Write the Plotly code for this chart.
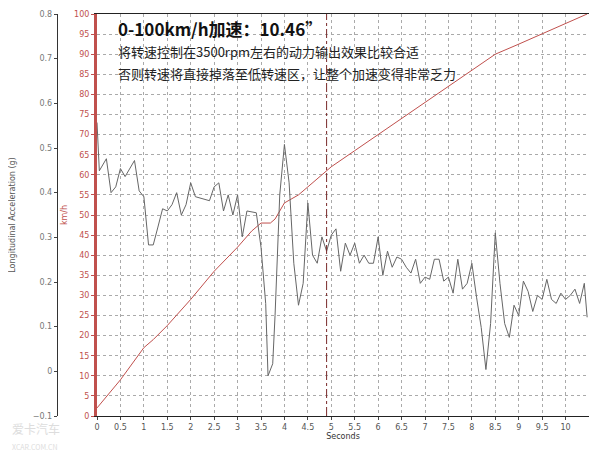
import plotly.graph_objects as go

# speed curve (km/h)
speed_t = [0, 0.5, 1.0, 1.2, 1.5, 2.0, 2.5, 3.0, 3.3, 3.5, 3.7, 3.8, 4.0, 4.3, 4.5, 5.0, 5.5, 6.0,
           6.5, 7.0, 7.5, 8.0, 8.5, 9.0, 9.5, 10.0, 10.46]
speed = [2, 9, 17, 19, 22.5, 29, 36, 42, 46, 48, 48, 49, 53, 55, 57, 62, 66, 70,
         74, 78, 82, 86, 90, 92.5, 95, 97.5, 100]

# longitudinal acceleration (g)
acc_t = [0, 0.05, 0.2, 0.3, 0.4, 0.5, 0.6, 0.8, 0.9, 1.0, 1.1, 1.2, 1.3, 1.4, 1.5, 1.6, 1.7, 1.8, 1.9,
         2.0, 2.1, 2.3, 2.4, 2.5, 2.6, 2.7, 2.8, 2.9, 3.0, 3.1, 3.2, 3.4, 3.5, 3.6, 3.65, 3.75, 3.8,
         3.9, 4.0, 4.1, 4.2, 4.3, 4.4, 4.5, 4.6, 4.7, 4.8, 4.9, 5.0, 5.1, 5.2, 5.3, 5.4, 5.5, 5.6,
         5.7, 5.8, 5.9, 6.0, 6.1, 6.2, 6.3, 6.4, 6.5, 6.6, 6.7, 6.8, 6.9, 7.0, 7.1, 7.2, 7.3, 7.4,
         7.5, 7.6, 7.7, 7.8, 7.9, 8.0, 8.1, 8.2, 8.3, 8.4, 8.5, 8.6, 8.7, 8.8, 8.9, 9.0, 9.1, 9.2,
         9.3, 9.4, 9.5, 9.6, 9.7, 9.8, 9.9, 10.0, 10.1, 10.2, 10.3, 10.4, 10.46]
acc_g = [0.557, 0.449, 0.476, 0.400, 0.413, 0.454, 0.436, 0.472, 0.404, 0.391, 0.283, 0.283, 0.323,
         0.364, 0.359, 0.373, 0.400, 0.350, 0.373, 0.422, 0.391, 0.386, 0.382, 0.413, 0.422, 0.359,
         0.395, 0.350, 0.395, 0.301, 0.359, 0.355, 0.278, 0.152, -0.010, 0.017, 0.125, 0.395, 0.508,
         0.422, 0.242, 0.148, 0.197, 0.377, 0.260, 0.242, 0.301, 0.269, 0.305, 0.319, 0.224, 0.287,
         0.260, 0.287, 0.242, 0.260, 0.242, 0.242, 0.301, 0.215, 0.269, 0.233, 0.256, 0.251, 0.233,
         0.220, 0.251, 0.197, 0.211, 0.206, 0.251, 0.251, 0.202, 0.211, 0.175, 0.251, 0.184, 0.197,
         0.242, 0.166, 0.098, 0.004, 0.107, 0.310, 0.197, 0.107, 0.076, 0.148, 0.125, 0.202, 0.179,
         0.134, 0.170, 0.161, 0.206, 0.161, 0.152, 0.175, 0.161, 0.170, 0.184, 0.152, 0.197, 0.121]

x_ticks = [0, 0.5, 1, 1.5, 2, 2.5, 3, 3.5, 4, 4.5, 5, 5.5, 6, 6.5, 7, 7.5, 8, 8.5, 9, 9.5, 10]
marker_t = 4.9

fig = go.Figure()
fig.add_trace(go.Scatter(x=acc_t, y=acc_g, mode="lines", yaxis="y2",
                         line=dict(color="#666666", width=1)))
fig.add_trace(go.Scatter(x=speed_t, y=speed, mode="lines",
                         line=dict(color="#c0504d", width=1)))
fig.add_shape(type="line", x0=marker_t, x1=marker_t, y0=0, y1=100, yref="y",
              line=dict(color="#7a2a2a", width=1, dash="dashdot"))

dom0 = 45 / 537
fig.update_layout(
    width=608, height=455, showlegend=False,
    margin=dict(l=44, r=27, t=6, b=47, autoexpand=False),
    paper_bgcolor="white", plot_bgcolor="white",
    font=dict(family="DejaVu Sans", size=8, color="#555555"),
    xaxis=dict(domain=[dom0, 1], range=[0, 10.5], tickvals=x_ticks, showgrid=True,
               gridcolor="#aaaaaa", griddash="dot", zeroline=False, ticks="outside",
               ticklen=3, showline=True, linecolor="#222222", mirror=True, automargin=False,
               title=dict(text="Seconds", font=dict(size=8, color="#333333"), standoff=2)),
    yaxis=dict(range=[0, 100], dtick=5, showgrid=True, gridcolor="#aaaaaa", griddash="dot",
               zeroline=False, showline=True, linecolor="#c0504d", linewidth=3,
               tickfont=dict(color="#c0504d", size=8), ticks="outside", ticklen=3,
               tickcolor="#c0504d", automargin=False,
               title=dict(text="km/h", font=dict(size=8, color="#c0504d"), standoff=6)),
    yaxis2=dict(range=[-0.1, 0.8], dtick=0.1, overlaying="y", anchor="free", side="left",
                position=0.009, showgrid=False, zeroline=False, showline=True,
                linecolor="#333333", ticks="outside", ticklen=3, automargin=False,
                tickfont=dict(size=8, color="#777777"),
                title=dict(text="Longitudinal Acceleration (g)", font=dict(size=8, color="#555555"))),
)

title_x = 0.12
fig.add_annotation(x=title_x, y=1.0, xref="paper", yref="paper", xanchor="left", yanchor="top",
                   showarrow=False, align="left",
                   text="<b>0-100km/h加速：10.46”</b>",
                   font=dict(family="Noto Sans CJK SC", size=17, color="#111111"))
fig.add_annotation(x=title_x, y=0.935, xref="paper", yref="paper", xanchor="left", yanchor="top",
                   showarrow=False, align="left",
                   text="将转速控制在3500rpm左右的动力输出效果比较合适",
                   font=dict(family="Noto Sans CJK SC", size=13, color="#222222"))
fig.add_annotation(x=title_x, y=0.88, xref="paper", yref="paper", xanchor="left", yanchor="top",
                   showarrow=False, align="left",
                   text="否则转速将直接掉落至低转速区，让整个加速变得非常乏力",
                   font=dict(family="Noto Sans CJK SC", size=13, color="#222222"))
fig.add_annotation(x=0, y=0, xref="paper", yref="paper", xanchor="left", yanchor="bottom",
                   yshift=-38, xshift=-42, showarrow=False, align="left",
                   text="爱卡汽车<br><span style='font-size:7px'>XCAR.COM.CN</span>",
                   font=dict(family="Noto Sans CJK SC", size=12, color="#dddddd"))

fig.write_html("out.html")
